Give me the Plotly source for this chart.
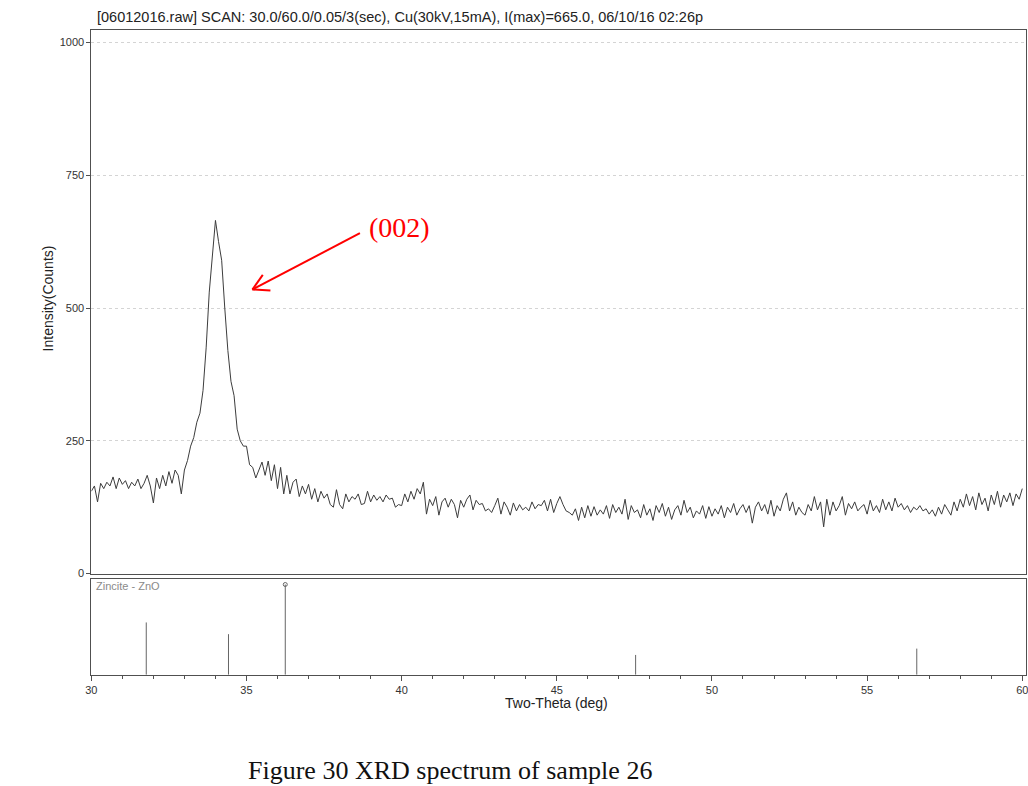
import numpy as np
import plotly.graph_objects as go

# ---------------- data ----------------
# scan: 30.0 -> 60.0 deg two-theta, values read every 0.1 deg
scan_start, scan_stop, scan_step = 30.0, 60.0, 0.1
counts = [
    155, 165, 135, 170, 160, 172, 165, 182, 160, 180,   # 30
    168, 175, 160, 172, 165, 178, 160, 170, 185, 165,   # 31
    133, 180, 160, 185, 165, 192, 170, 195, 185, 150,   # 32
    195, 213, 240, 256, 285, 302, 345, 425, 530, 605,   # 33
    665, 625, 590, 500, 420, 362, 335, 272, 250, 240,   # 34
    240, 205, 200, 180, 195, 210, 185, 212, 175, 205,   # 35
    160, 200, 150, 185, 150, 172, 178, 145, 165, 150,   # 36
    168, 140, 160, 135, 155, 142, 150, 130, 125, 158,   # 37
    130, 122, 150, 135, 145, 140, 150, 130, 132, 155,   # 38
    135, 148, 138, 145, 135, 148, 140, 142, 125, 130,   # 39
    128, 150, 135, 155, 140, 160, 150, 172, 112, 140,   # 40
    128, 145, 110, 135, 142, 125, 140, 130, 105, 138,   # 41
    125, 140, 148, 120, 138, 130, 132, 118, 122, 115,   # 42
    128, 142, 112, 135, 125, 110, 133, 118, 130, 120,   # 43
    125, 118, 135, 122, 130, 128, 138, 118, 140, 115,   # 44
    132, 145, 130, 118, 115, 110, 122, 100, 125, 105,   # 45
    128, 108, 126, 110, 120, 112, 128, 104, 130, 115,   # 46
    125, 112, 140, 102, 128, 115, 120, 105, 130, 110,   # 47
    122, 100, 128, 115, 132, 108, 125, 102, 120, 128,   # 48
    110, 138, 115, 125, 105, 118, 112, 128, 104, 126,   # 49
    108, 122, 112, 128, 105, 125, 115, 132, 110, 122,   # 50
    130, 115, 128, 95, 125, 135, 118, 130, 112, 138,    # 51
    108, 128, 118, 140, 152, 118, 135, 110, 125, 115,   # 52
    110, 130, 118, 145, 120, 135, 88, 140, 110, 135,    # 53
    118, 128, 145, 110, 132, 122, 135, 118, 125, 130,   # 54
    112, 138, 118, 128, 115, 140, 120, 135, 118, 142,   # 55
    125, 132, 120, 128, 115, 125, 120, 128, 118, 122,   # 56
    112, 120, 108, 125, 112, 130, 120, 110, 135, 118,   # 57
    140, 125, 150, 128, 145, 120, 152, 130, 142, 118,   # 58
    148, 130, 155, 125, 148, 135, 152, 128, 150, 140,   # 59
    160,                                                # 60
]
two_theta = np.round(scan_start + scan_step * np.arange(len(counts)), 2)

# reference pattern: Zincite - ZnO
ref_two_theta = [31.77, 34.42, 36.25, 47.54, 56.60]
ref_rel_int = [58, 45, 100, 22, 29]

y_ticks = [0, 250, 500, 750, 1000]

title_text = "[06012016.raw] SCAN: 30.0/60.0/0.05/3(sec), Cu(30kV,15mA), I(max)=665.0, 06/10/16 02:26p"

# ---------------- figure ----------------
W, H = 1028, 786
SANS = "Liberation Sans, Arial, sans-serif"
SERIF = "Liberation Serif, Times New Roman, serif"
AX = "#505050"


def px(x):
    return x / W


def py(y):
    return 1 - y / H


fig = go.Figure()

fig.add_trace(go.Scatter(
    x=two_theta, y=counts, mode="lines",
    line=dict(color="#3c3c3c", width=1),
    xaxis="x", yaxis="y", hoverinfo="skip",
))

stick_x, stick_y = [], []
for t, i in zip(ref_two_theta, ref_rel_int):
    stick_x += [t, t, None]
    stick_y += [0, i, None]
fig.add_trace(go.Scatter(
    x=stick_x, y=stick_y, mode="lines",
    line=dict(color="#666666", width=1),
    xaxis="x2", yaxis="y2", hoverinfo="skip",
))
imax = int(np.argmax(ref_rel_int))
fig.add_trace(go.Scatter(
    x=[ref_two_theta[imax]], y=[ref_rel_int[imax]], mode="markers",
    marker=dict(symbol="circle-open", size=4, color="#666666", line=dict(width=1)),
    xaxis="x2", yaxis="y2", hoverinfo="skip",
))

x_dom = [px(86), 1.0]
x_rng = [30, 60.12]

fig.update_layout(
    width=W, height=H,
    margin=dict(l=0, r=0, t=0, b=0),
    paper_bgcolor="white", plot_bgcolor="white",
    showlegend=False,
    font=dict(family=SANS, color="#333333"),
    xaxis=dict(
        domain=x_dom, range=x_rng, anchor="y",
        showline=True, linecolor=AX, linewidth=1, mirror=True,
        showticklabels=False, ticks="", showgrid=False, zeroline=False,
    ),
    yaxis=dict(
        domain=[py(578), py(30)], range=[0, 1024], anchor="x",
        tickvals=y_ticks, ticks="outside", ticklen=4, tickcolor=AX,
        tickfont=dict(size=11, family=SANS, color="#333333"),
        showline=True, linecolor=AX, linewidth=1, mirror=True,
        showgrid=True, gridcolor="#d4d4d4", griddash="dot", gridwidth=1,
        zeroline=False,
    ),
    xaxis2=dict(
        domain=x_dom, range=x_rng, anchor="y2",
        tick0=30, dtick=5, ticks="outside", ticklen=5, tickcolor=AX,
        minor=dict(dtick=1, ticks="outside", ticklen=3, tickcolor=AX),
        tickfont=dict(size=11, family=SANS, color="#333333"),
        ticklabeloverflow="allow",
        showline=True, linecolor=AX, linewidth=1, mirror=True,
        showgrid=False, zeroline=False,
    ),
    yaxis2=dict(
        domain=[py(680), py(583)], range=[0, 106.6], anchor="x2",
        showticklabels=False, ticks="",
        showline=True, linecolor=AX, linewidth=1, mirror=True,
        showgrid=False, zeroline=False,
    ),
)

ann = [
    dict(text=title_text, x=px(90), y=py(17), xanchor="left", yanchor="middle",
         font=dict(size=14.5, family=SANS, color="#222222")),
    dict(text="Intensity(Counts)", x=px(42), y=py(301), textangle=-90,
         xanchor="center", yanchor="middle",
         font=dict(size=14, family=SANS, color="#222222")),
    dict(text="Two-Theta (deg)", x=px(555), y=py(708), xanchor="center", yanchor="middle",
         font=dict(size=14, family=SANS, color="#222222")),
    dict(text="Zincite - ZnO", x=px(89), y=py(591), xanchor="left", yanchor="middle",
         font=dict(size=11, family=SANS, color="#8a8a8a")),
    dict(text="(002)", x=px(397), y=py(229), xanchor="center", yanchor="middle",
         font=dict(size=28, family=SERIF, color="#ff0000")),
    dict(text="Figure 30 XRD spectrum of sample 26", x=px(447.5), y=py(776.5),
         xanchor="center", yanchor="middle",
         font=dict(size=26, family=SERIF, color="#111111")),
]
for a in ann:
    a.update(xref="paper", yref="paper", showarrow=False)
fig.update_layout(annotations=ann)

# red arrow (open V head) pointing at the (002) peak
arrow_segments = [
    ((356.7, 235.0), (248.3, 291.7)),
    ((248.3, 291.7), (258.8, 277.0)),
    ((248.3, 291.7), (266.5, 292.8)),
]
shapes = []
for (x0, y0), (x1, y1) in arrow_segments:
    shapes.append(dict(type="line", xref="paper", yref="paper",
                       x0=px(x0), y0=py(y0), x1=px(x1), y1=py(y1),
                       line=dict(color="#ff0000", width=2)))
fig.update_layout(shapes=shapes)

fig.write_html("out.html")
